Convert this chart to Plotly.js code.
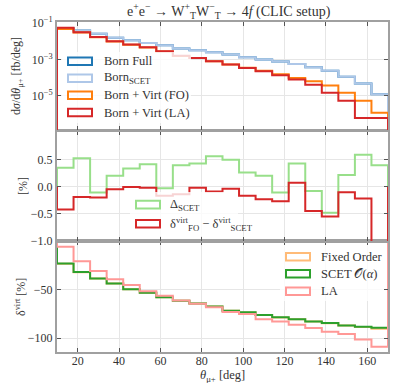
<!DOCTYPE html>
<html>
<head>
<meta charset="utf-8">
<script src="https://cdn.plot.ly/plotly-3.0.1.min.js"></script>
<style>
  html, body { margin: 0; padding: 0; background: #fff; }
  #chart { width: 394px; height: 383px; }
</style>
</head>
<body>
<div id="chart"></div>
<script>
// bin edges in theta_mu+ (deg), 20 bins of 8 deg
const edges = [10, 18, 26, 34, 42, 50, 58, 66, 74, 82, 90, 98, 106, 114, 122, 130, 138, 146, 154, 162, 170];

// top panel: dsigma/dtheta [fb/deg], log10 of values
const bornFullLog = [-1.28, -1.42, -1.60, -1.82, -1.95, -2.10, -2.23, -2.41, -2.50, -2.61, -2.74, -2.88, -3.01, -3.12, -3.25, -3.43, -3.62, -3.95, -4.32, -4.92];
const bornScetLog = [-1.28, -1.42, -1.60, -1.82, -1.95, -2.10, -2.23, -2.41, -2.50, -2.61, -2.74, -2.88, -3.01, -3.12, -3.25, -3.43, -3.62, -3.95, -4.32, -4.92];
const virtFOLog   = [-1.33, -1.52, -1.79, -2.02, -2.20, -2.35, -2.57, -2.81, -2.93, -3.11, -3.29, -3.46, -3.62, -3.82, -4.02, -4.20, -4.44, -4.83, -5.27, -5.93];
const virtLALog   = [-1.27, -1.51, -1.77, -2.01, -2.19, -2.34, -2.56, -2.80, -2.92, -3.10, -3.29, -3.47, -3.65, -3.87, -4.11, -4.39, -4.83, -5.27, -6.22, -6.22];

// middle panel [%]
const deltaScet = [0.345, 0.52, -0.11, 0.20, 0.33, 0.41, -0.03, 0.39, 0.425, 0.555, 0.49, 0.26, 0.20, -0.11, 0.425, -0.08, -0.48, 0.21, 0.585, 0.39];
const diffFoScet = [-0.42, -0.19, -0.20, -0.05, -0.01, -0.02, -0.17, -0.14, -0.02, -0.09, -0.04, -0.17, -0.235, -0.27, 0.07, -0.45, -0.55, -0.105, -0.22, -3.0];

// bottom panel delta_virt [%]
const fixedOrder = [-23.2, -31.9, -38.5, -43.7, -49.4, -53.2, -57.7, -61.5, -64.3, -67.4, -71.6, -73.4, -76.2, -78.6, -80.6, -82.8, -84.5, -87.0, -88.4, -90.3];
const scetOa     = [-22.9, -31.7, -38.5, -43.7, -49.4, -53.2, -57.7, -61.5, -64.3, -67.4, -71.6, -73.3, -76.1, -78.5, -80.6, -82.7, -84.4, -86.9, -88.2, -89.3];
const leadingAppr = [-5.6, -20.5, -30.6, -39.3, -45.2, -51.5, -56.3, -61.1, -64.6, -68.1, -72.9, -75.0, -80.6, -82.7, -86.1, -89.6, -93.4, -95.8, -101.4, -109.0];

const xTicks = [20, 40, 60, 80, 100, 120, 140, 160];

// histogram outline (step from baseline, like histtype='step')
function stepXY(vals, base) {
    const x = [edges[0]];
    const y = [base];
    vals.forEach((v, i) => { x.push(edges[i]); y.push(v); });
    x.push(edges[edges.length - 1]); y.push(vals[vals.length - 1]);
    x.push(edges[edges.length - 1]); y.push(base);
    return { x, y };
}

function hist(vals, base, color, xa, ya, width) {
    const s = stepXY(vals, base);
    return {
        type: 'scatter', mode: 'lines', x: s.x, y: s.y,
        xaxis: xa, yaxis: ya, hoverinfo: 'skip', showlegend: false,
        line: { color: color, width: width || 2, shape: 'hv' }
    };
}

const pow10 = a => a.map(v => Math.pow(10, v));

const traces = [
    hist(pow10(bornFullLog), 1e-12, '#1f77b4', 'x3', 'y3'),
    hist(pow10(bornScetLog), 1e-12, '#aec7e8', 'x3', 'y3'),
    hist(pow10(virtFOLog), 1e-12, '#ff7f0e', 'x3', 'y3'),
    hist(pow10(virtLALog), 1e-12, '#d62728', 'x3', 'y3'),
    hist(deltaScet, 0, '#98df8a', 'x2', 'y2'),
    hist(diffFoScet, 0, '#d62728', 'x2', 'y2'),
    hist(fixedOrder, 0, '#ffbb78', 'x', 'y'),
    hist(scetOa, 0, '#2ca02c', 'x', 'y'),
    hist(leadingAppr, 0, '#ff9896', 'x', 'y'),
];

// pixel helpers for the plot area
const L = 57, R = 388, T = 22, B = 352;
const fx = p => (p - L) / (R - L);
const fy = p => (B - p) / (B - T);

const serif = 'Liberation Serif, DejaVu Serif, serif';
const textCol = '#333';

const axisBase = {
    showline: true, mirror: 'ticks', linecolor: '#a0a0a0', linewidth: 2,
    ticks: 'inside', ticklen: 4, tickwidth: 1, tickcolor: '#555',
    showgrid: true, gridcolor: '#e6e6e6', gridwidth: 1, zeroline: false,
    tickfont: { family: serif, size: 12, color: textCol }
};

const xBase = Object.assign({}, axisBase, { range: [10, 170], tickvals: xTicks });

const shapes = [];
const annotations = [];

// legend: white semi-transparent frame, outlined patches, labels
function legend(box, items) {
    shapes.push({
        type: 'rect', xref: 'paper', yref: 'paper', layer: 'above',
        x0: fx(box[0]), x1: fx(box[1]), y0: fy(box[2]), y1: fy(box[3]),
        fillcolor: 'rgba(255,255,255,0.8)', line: { width: 0 }
    });
    items.forEach(it => {
        shapes.push({
            type: 'rect', xref: 'paper', yref: 'paper', layer: 'above',
            x0: fx(it.px), x1: fx(it.px + 24), y0: fy(it.py - 3.8), y1: fy(it.py + 3.8),
            fillcolor: 'rgba(0,0,0,0)', line: { color: it.color, width: 2 }
        });
        annotations.push({
            xref: 'paper', yref: 'paper', x: fx(it.tx), y: fy(it.py),
            xanchor: 'left', yanchor: 'middle', showarrow: false,
            text: it.text, font: { family: serif, size: 12.5, color: textCol }
        });
    });
}

legend([62, 191, 52, 123], [
    { px: 68, py: 61.3, tx: 102, color: '#1f77b4', text: 'Born Full' },
    { px: 68, py: 78.3, tx: 102, color: '#aec7e8', text: 'Born<sub>SCET</sub>' },
    { px: 68, py: 95.2, tx: 102, color: '#ff7f0e', text: 'Born + Virt (FO)' },
    { px: 68, py: 112.5, tx: 102, color: '#d62728', text: 'Born + Virt (LA)' },
]);

legend([130, 238, 192, 236], [
    { px: 136, py: 204.6, tx: 168, color: '#98df8a', text: 'Δ<sub>SCET</sub>' },
    { px: 136, py: 223.8, tx: 168, color: '#d62728', text: 'δ<sup>virt</sup><sub>FO</sub> − δ<sup>virt</sup><sub>SCET</sub>' },
]);

legend([280, 384, 245, 301], [
    { px: 286, py: 256.7, tx: 319, color: '#ffbb78', text: 'Fixed Order' },
    { px: 286, py: 273.7, tx: 319, color: '#2ca02c', text: 'SCET 𝒪(<i>α</i>)' },
    { px: 286, py: 291.2, tx: 319, color: '#ff9896', text: 'LA' },
]);

// axis titles
annotations.push(
    { xref: 'paper', yref: 'paper', x: fx(17), y: fy(76), textangle: -90, showarrow: false,
      xanchor: 'center', yanchor: 'middle',
      text: 'd<i>σ</i>/d<i>θ</i><sub>μ+</sub> [fb/deg]', font: { family: serif, size: 12, color: textCol } },
    { xref: 'paper', yref: 'paper', x: fx(23), y: fy(186), textangle: -90, showarrow: false,
      xanchor: 'center', yanchor: 'middle',
      text: '[%]', font: { family: serif, size: 12, color: textCol } },
    { xref: 'paper', yref: 'paper', x: fx(20), y: fy(297), textangle: -90, showarrow: false,
      xanchor: 'center', yanchor: 'middle',
      text: 'δ<sup>virt</sup> [%]', font: { family: serif, size: 12, color: textCol } },
    { xref: 'paper', yref: 'paper', x: fx(222), y: fy(376), showarrow: false,
      xanchor: 'center', yanchor: 'middle',
      text: '<i>θ</i><sub>μ+</sub> [deg]', font: { family: serif, size: 12.5, color: textCol } },
    { xref: 'paper', yref: 'paper', x: fx(229), y: fy(11), showarrow: false,
      xanchor: 'center', yanchor: 'middle',
      text: 'e<sup>+</sup>e<sup>−</sup> → W<sup>+</sup><sub>T</sub>W<sup>−</sup><sub>T</sub> → 4<i>f</i> (CLIC setup)',
      font: { family: serif, size: 14, color: textCol } }
);

const layout = {
    width: 394, height: 383,
    margin: { l: L, r: 394 - R, t: T, b: 383 - B },
    paper_bgcolor: '#fff', plot_bgcolor: '#fff',
    showlegend: false,
    xaxis: Object.assign({}, xBase, { anchor: 'y', showticklabels: true, ticklabelstandoff: -3 }),
    xaxis2: Object.assign({}, xBase, { anchor: 'y2', matches: 'x', showticklabels: false }),
    xaxis3: Object.assign({}, xBase, { anchor: 'y3', matches: 'x', showticklabels: false }),
    yaxis: Object.assign({}, axisBase, {
        domain: [0, fy(241)], range: [-114.3, 0.3],
        tickvals: [-100, -50], ticktext: ['−100', '−50']
    }),
    yaxis2: Object.assign({}, axisBase, {
        domain: [fy(241), fy(131)], range: [-1.0, 1.02],
        tickvals: [-1, -0.5, 0, 0.5], ticktext: ['−1.0', '−0.5', '0.0', '0.5']
    }),
    yaxis3: Object.assign({}, axisBase, {
        domain: [fy(130), 1], type: 'log', range: [-6.88, -0.95],
        tickvals: [1e-5, 1e-3, 1e-1], ticktext: ['10<sup>−5</sup>', '10<sup>−3</sup>', '10<sup>−1</sup>']
    }),
    shapes: shapes,
    annotations: annotations
};

Plotly.newPlot('chart', traces, layout, { displayModeBar: false, staticPlot: true });
</script>
</body>
</html>
